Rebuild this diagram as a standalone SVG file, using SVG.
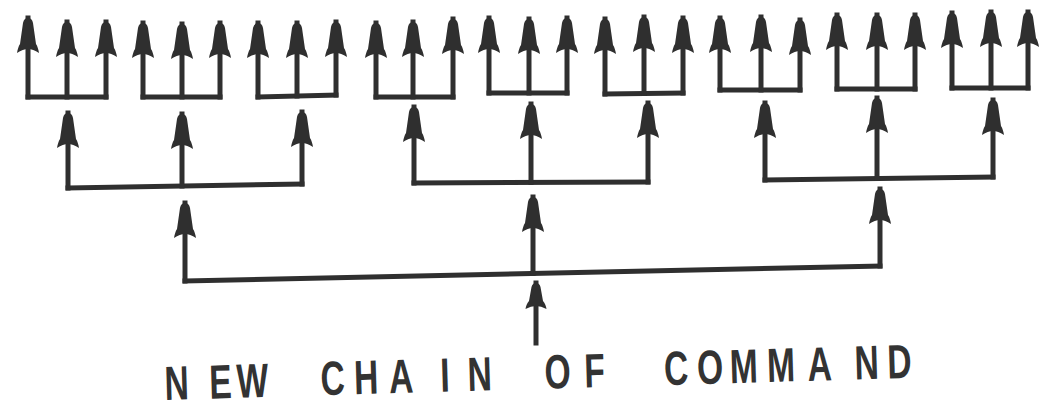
<svg xmlns="http://www.w3.org/2000/svg" width="1045" height="413" viewBox="0 0 1045 413">
<style>
.ln{stroke:#2f2f2f;stroke-width:5;stroke-linecap:square;fill:none}
.ar{marker-end:url(#head)}
.lbl{font-family:"Liberation Sans",Arial,sans-serif;font-weight:bold;font-size:48px;fill:#333}
</style>
<defs>
<marker id="head" markerUnits="userSpaceOnUse" markerWidth="38" markerHeight="26" viewBox="0 -13 38 26" refX="35" refY="0" orient="auto">
<path d="M0,-11 C3,-10.5 7,-9.5 9,-8 L30,-5 Q35,-4 35,0 Q35,4 30,5 L9,8 C7,9.5 3,10.5 0,11 Q4,5 4,0 Q4,-5 0,-11 Z" fill="#2f2f2f"/>
</marker>
<marker id="head-sm" markerUnits="userSpaceOnUse" markerWidth="30" markerHeight="26" viewBox="0 -13 30 26" refX="26" refY="0" orient="auto">
<path d="M0,-10.5 C3,-10 6,-9 8,-7 L22,-4.5 Q26,-3.5 26,0 Q26,3.5 22,4.5 L8,7 C6,9 3,10 0,10.5 Q3,5 3,0 Q3,-5 0,-10.5 Z" fill="#2f2f2f"/>
</marker>
</defs>
<g id="connectors" class="ln">
<g id="root">
<line x1="536" y1="343" x2="536" y2="283" style="marker-end:url(#head-sm)"/>
</g>
<g id="level1">
<line x1="185" y1="281" x2="880" y2="266"/>
<line class="ar" x1="185" y1="281" x2="185" y2="203"/>
<line class="ar" x1="533" y1="273.5" x2="533" y2="197"/>
<line class="ar" x1="880" y1="266" x2="880" y2="189"/>
</g>
<g id="level2-left">
<line x1="68" y1="188" x2="302" y2="184"/>
<line class="ar" x1="68" y1="188" x2="68" y2="113"/>
<line class="ar" x1="182" y1="186" x2="182" y2="114"/>
<line class="ar" x1="302" y1="184" x2="302" y2="112"/>
</g>
<g id="level2-mid">
<line x1="414" y1="183" x2="648" y2="182"/>
<line class="ar" x1="414" y1="183" x2="414" y2="107"/>
<line class="ar" x1="531" y1="182.5" x2="531" y2="104"/>
<line class="ar" x1="648" y1="182" x2="648" y2="103"/>
</g>
<g id="level2-right">
<line x1="765" y1="180" x2="993" y2="177"/>
<line class="ar" x1="765" y1="180" x2="765" y2="103"/>
<line class="ar" x1="877" y1="178.5" x2="877" y2="98"/>
<line class="ar" x1="993" y1="177" x2="993" y2="100"/>
</g>
<g id="top-1">
<line x1="28" y1="97" x2="106" y2="97"/>
<line class="ar" x1="28" y1="97" x2="28" y2="18"/>
<line class="ar" x1="67" y1="97" x2="67" y2="22"/>
<line class="ar" x1="106" y1="97" x2="106" y2="22"/>
</g>
<g id="top-2">
<line x1="143" y1="97" x2="220" y2="97"/>
<line class="ar" x1="143" y1="97" x2="143" y2="23"/>
<line class="ar" x1="182" y1="97" x2="182" y2="24"/>
<line class="ar" x1="220" y1="97" x2="220" y2="23"/>
</g>
<g id="top-3">
<line x1="258" y1="97" x2="336" y2="95"/>
<line class="ar" x1="258" y1="97" x2="258" y2="23"/>
<line class="ar" x1="297" y1="96" x2="297" y2="23"/>
<line class="ar" x1="336" y1="95" x2="336" y2="22"/>
</g>
<g id="top-4">
<line x1="376" y1="97" x2="453" y2="97"/>
<line class="ar" x1="376" y1="97" x2="376" y2="23"/>
<line class="ar" x1="413" y1="97" x2="413" y2="22"/>
<line class="ar" x1="453" y1="97" x2="453" y2="19"/>
</g>
<g id="top-5">
<line x1="489" y1="93" x2="567" y2="93"/>
<line class="ar" x1="489" y1="93" x2="489" y2="18"/>
<line class="ar" x1="529" y1="93" x2="529" y2="19"/>
<line class="ar" x1="567" y1="93" x2="567" y2="18"/>
</g>
<g id="top-6">
<line x1="605" y1="94" x2="683" y2="93"/>
<line class="ar" x1="605" y1="94" x2="605" y2="19"/>
<line class="ar" x1="644" y1="93.5" x2="644" y2="17"/>
<line class="ar" x1="683" y1="93" x2="683" y2="18"/>
</g>
<g id="top-7">
<line x1="720" y1="90" x2="800" y2="90"/>
<line class="ar" x1="720" y1="90" x2="720" y2="18"/>
<line class="ar" x1="761" y1="90" x2="761" y2="17"/>
<line class="ar" x1="800" y1="90" x2="800" y2="20"/>
</g>
<g id="top-8">
<line x1="837" y1="89" x2="915" y2="89"/>
<line class="ar" x1="837" y1="89" x2="837" y2="15"/>
<line class="ar" x1="877" y1="89" x2="877" y2="15"/>
<line class="ar" x1="915" y1="89" x2="915" y2="15"/>
</g>
<g id="top-9">
<line x1="952" y1="88" x2="1028" y2="88"/>
<line class="ar" x1="952" y1="88" x2="952" y2="13"/>
<line class="ar" x1="991" y1="88" x2="991" y2="12"/>
<line class="ar" x1="1028" y1="88" x2="1028" y2="12"/>
</g>
</g>
<g id="label">
<text class="lbl" transform="translate(165,400) rotate(-1.7) scale(0.7,1)" x="0 64 103 170 223 271 321 394 433 490 543 600 650 714 761 808 861 919 986 1033" y="0">NEW CHAIN OF COMMAND</text>
</g>
</svg>
